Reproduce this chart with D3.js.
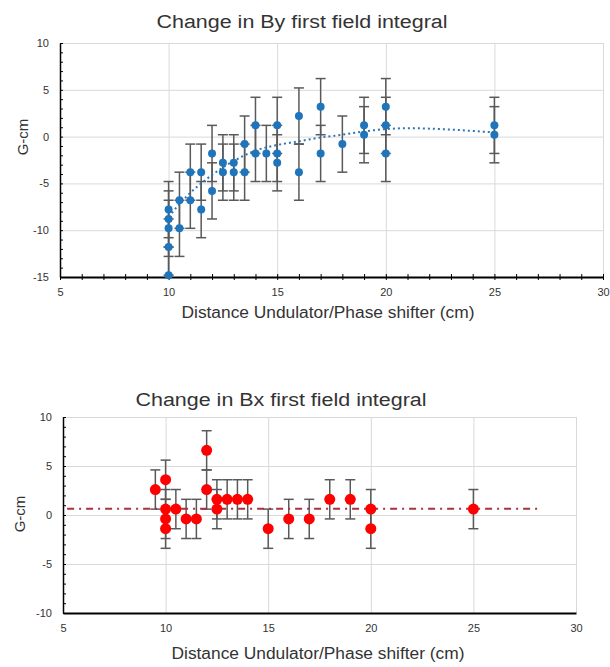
<!DOCTYPE html>
<html>
<head>
<meta charset="utf-8">
<script src="https://cdn.jsdelivr.net/npm/d3@7"></script>
<style>
  body { margin: 0; background: #fff; }
  svg { font-family: "Liberation Sans", Arial, sans-serif; }
  .grid line { stroke: #d9d9d9; stroke-width: 1; }
  .grid path { display: none; }
  .axis path, .axis line { stroke: #000; }
  .axis text { fill: #333; font-size: 11px; }
  .err { stroke: #595959; stroke-width: 1.5; fill: none; }
  .title { fill: #333; font-size: 18px; }
  .axis-title { fill: #333; font-size: 16px; }
</style>
</head>
<body>
<svg id="chart" width="610" height="667"></svg>
<script>
/* global d3 */

// ---- By first field integral (top) ----
var byX = [10, 10, 10, 10, 10, 10.5, 10.5, 11, 11, 11.5, 11.5, 12, 12, 12.5, 12.5,
  13, 13, 13.5, 13.5, 14, 14, 14.5, 15, 15, 15, 16, 16, 17, 17, 18, 19, 19, 20, 20, 20, 25, 25];
var byY = [-7.8, -8.8, -9.8, -11.8, -14.8, -6.8, -9.8, -3.8, -6.8, -3.8, -7.8, -1.8, -5.8, -2.8, -3.8,
  -2.8, -3.8, -0.8, -3.8, 1.2, -1.8, -1.8, 1.2, -1.8, -2.8, 2.2, -3.8, 3.2, -1.8, -0.8, 1.2, 0.2, 3.2, 1.2, -1.8, 1.2, 0.2];
var byErr = 3;
var byTrendX = [10, 10.5, 11, 11.5, 12, 12.5, 13, 13.5, 14, 15, 16, 17, 18, 19, 20, 21, 22, 23, 24, 25];
var byTrendY = [-8.6, -7.2, -6.0, -5.0, -4.1, -3.3, -2.6, -2.0, -1.5, -0.9, -0.5, -0.1, 0.2, 0.55, 0.8, 0.9, 0.85, 0.75, 0.6, 0.45];
var byYTicks = [-15, -10, -5, 0, 5, 10];

// ---- Bx first field integral (bottom) ----
var bxX = [9.5, 10, 10, 10, 10, 10.5, 11, 11.5, 12, 12, 12.5, 12.5, 13, 13.5, 14, 15, 16, 17, 18, 19, 20, 20, 25];
var bxY = [2.6, 3.6, 0.6, -0.4, -1.4, 0.6, -0.4, -0.4, 6.6, 2.6, 1.6, 0.6, 1.6, 1.6, 1.6, -1.4, -0.4, -0.4, 1.6, 1.6, 0.6, -1.4, 0.6];
var bxErr = 2;
var bxTrendX = [5.2, 28.3];
var bxTrendY = [0.65, 0.65];
var bxYTicks = [-10, -5, 0, 5, 10];

var xTicks = [5, 10, 15, 20, 25, 30];

var svg = d3.select("#chart"),
  plain = function (d) { return String(d); };   // keep hyphen minus like the original

function panel(cfg) {
  var x = d3.scaleLinear().domain([5, 30]).range([cfg.left, cfg.right]),
    y = d3.scaleLinear().domain(cfg.yDomain).range([cfg.bottom, cfg.top]),
    g = svg.append("g"),
    w = cfg.right - cfg.left,
    h = cfg.bottom - cfg.top;

  var clipId = "clip" + cfg.id;
  g.append("clipPath").attr("id", clipId)
    .append("rect")
    .attr("x", cfg.left).attr("y", cfg.top)
    .attr("width", w).attr("height", h);

  // gridlines
  g.append("g").attr("class", "grid")
    .attr("transform", "translate(" + cfg.left + ",0)")
    .call(d3.axisLeft(y).tickValues(cfg.yTicks).tickSize(-w).tickFormat(""));
  g.append("g").attr("class", "grid")
    .attr("transform", "translate(0," + cfg.bottom + ")")
    .call(d3.axisBottom(x).tickValues(xTicks).tickSize(-h).tickFormat(""));

  // error bars
  var eb = g.append("g").attr("clip-path", "url(#" + clipId + ")")
    .selectAll("g").data(cfg.xs).enter().append("g").attr("class", "err");
  eb.append("line")
    .attr("x1", function (d) { return x(d); })
    .attr("x2", function (d) { return x(d); })
    .attr("y1", function (d, i) { return y(cfg.ys[i] + cfg.err); })
    .attr("y2", function (d, i) { return y(cfg.ys[i] - cfg.err); });
  [1, -1].forEach(function (s) {
    eb.append("line")
      .attr("x1", function (d) { return x(d) - 5; })
      .attr("x2", function (d) { return x(d) + 5; })
      .attr("y1", function (d, i) { return y(cfg.ys[i] + s * cfg.err); })
      .attr("y2", function (d, i) { return y(cfg.ys[i] + s * cfg.err); });
  });

  // trend line
  var line = d3.line()
    .x(function (d) { return x(d); })
    .y(function (d, i) { return y(cfg.trendY[i]); })
    .curve(d3.curveMonotoneX);
  g.append("path")
    .datum(cfg.trendX)
    .attr("d", line)
    .attr("fill", "none")
    .attr("stroke", cfg.trendColor)
    .attr("stroke-width", 2)
    .attr("stroke-dasharray", cfg.trendDash);

  // axes
  var yAxis = g.append("g").attr("class", "axis")
    .attr("transform", "translate(" + cfg.left + ",0)")
    .call(d3.axisLeft(y).tickValues(cfg.yTicks).tickFormat(plain).tickSize(0).tickPadding(11));
  yAxis.select(".domain").attr("stroke-width", 1.5);
  g.append("g").attr("class", "axis")
    .attr("transform", "translate(" + cfg.left + ",0)")
    .call(d3.axisRight(y).tickValues(d3.range(cfg.yDomain[0], cfg.yDomain[1] + 1, 1)).tickSize(3).tickFormat(""))
    .select(".domain").remove();

  var xAxis = g.append("g").attr("class", "axis")
    .attr("transform", "translate(0," + cfg.bottom + ")")
    .call(d3.axisBottom(x).tickValues(xTicks).tickFormat(plain).tickSize(0).tickPadding(11));
  xAxis.select(".domain").attr("stroke-width", 1.8);
  if (cfg.xMinor) {
    g.append("g").attr("class", "axis")
      .attr("transform", "translate(0," + cfg.bottom + ")")
      .call(d3.axisBottom(x).tickValues(d3.range(5, 31, 1)).tickSize(3).tickFormat(""))
      .call(function (a) {
        a.select(".domain").remove();
        a.selectAll(".tick line").attr("y1", -3).attr("y2", 3);
      });
  }

  // points
  g.append("g").selectAll("circle")
    .data(cfg.xs).enter().append("circle")
    .attr("cx", function (d) { return x(d); })
    .attr("cy", function (d, i) { return y(cfg.ys[i]); })
    .attr("r", cfg.r)
    .attr("fill", cfg.color);

  // texts
  g.append("text").attr("class", "title")
    .attr("x", cfg.titleX).attr("y", cfg.titleY)
    .attr("text-anchor", "middle")
    .attr("textLength", 291).attr("lengthAdjust", "spacingAndGlyphs")
    .text(cfg.title);
  g.append("text").attr("class", "axis-title")
    .attr("x", cfg.xTitleX).attr("y", cfg.xTitleY)
    .attr("text-anchor", "middle")
    .attr("textLength", 293).attr("lengthAdjust", "spacingAndGlyphs")
    .text("Distance Undulator/Phase shifter (cm)");
  g.append("text").attr("class", "axis-title")
    .attr("transform", "translate(" + cfg.yTitleX + "," + cfg.yTitleY + ") rotate(-90)")
    .attr("text-anchor", "middle")
    .style("font-size", "15px")
    .text("G-cm");
}

panel({
  id: 1, left: 60, right: 603, top: 43, bottom: 277,
  yDomain: [-15, 10], yTicks: byYTicks,
  xs: byX, ys: byY, err: byErr, r: 4, color: "#1f75bb",
  trendX: byTrendX, trendY: byTrendY, trendColor: "#2e75b6", trendDash: "2,3",
  xMinor: true,
  title: "Change in By first field integral", titleX: 302, titleY: 28,
  xTitleX: 328, xTitleY: 318, yTitleX: 28, yTitleY: 137
});

panel({
  id: 2, left: 63, right: 576, top: 417, bottom: 613,
  yDomain: [-10, 10], yTicks: bxYTicks,
  xs: bxX, ys: bxY, err: bxErr, r: 5.5, color: "#ff0000",
  trendX: bxTrendX, trendY: bxTrendY, trendColor: "#a8323e", trendDash: "7,5,2,5",
  xMinor: false,
  title: "Change in Bx first field integral", titleX: 281, titleY: 406,
  xTitleX: 318, xTitleY: 659, yTitleX: 25, yTitleY: 514
});
</script>
</body>
</html>
